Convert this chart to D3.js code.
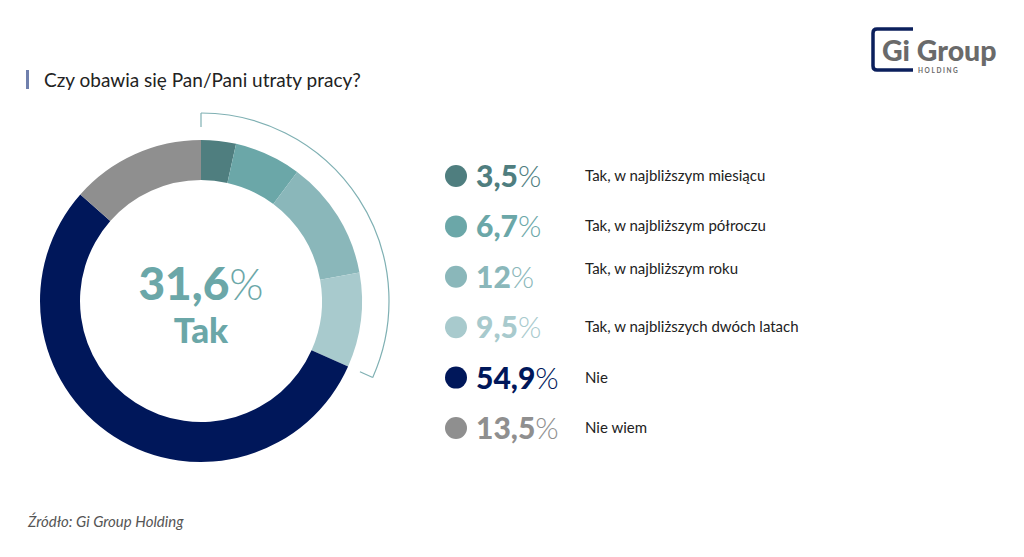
<!DOCTYPE html>
<meta charset="utf-8">
<script src="https://d3js.org/d3.v7.min.js"></script>
<style>
  body { margin: 0; background: #fff; }
  svg { font-family: Lato, "Open Sans", sans-serif; }
</style>
<div id="chart"></div>
<script>
// data
var values = [3.5, 6.7, 12, 9.5, 54.9, 13.5]
var valueLabels = ["3,5", "6,7", "12", "9,5", "54,9", "13,5"]
var categories = ["Tak, w najbliższym miesiącu", "Tak, w najbliższym półroczu", "Tak, w najbliższym roku",
                  "Tak, w najbliższych dwóch latach", "Nie", "Nie wiem"]
var colors = ["#4f7e7f", "#6ba7a8", "#8ab7ba", "#a8cacd", "#00175a", "#8f8f8f"]
var takCount = 4  // first four categories make up "Tak"
var takTotal = "31,6"

var width = 1024, height = 557
var svg = d3.select("#chart").append("svg").attr("width", width).attr("height", height)

// title
svg.append("rect").attr("x", 26).attr("y", 70).attr("width", 3).attr("height", 19).attr("fill", "#7080ad")
svg.append("text").attr("x", 44).attr("y", 87).text("Czy obawia się Pan/Pani utraty pracy?")
  .style("font-size", "19px").style("fill", "#222")

// donut
var cx = 201, cy = 301
var pie = d3.pie().sort(null).value(function(d){ return d })
var arcs = pie(values)
var arc = d3.arc().innerRadius(121).outerRadius(161)
var g = svg.append("g").attr("transform", "translate(" + cx + "," + cy + ")")
g.selectAll("path").data(arcs).enter().append("path")
  .attr("d", arc)
  .attr("fill", function(d, i){ return colors[i] })

// bracket around "Tak" slices
var bracketEnd = arcs[takCount - 1].endAngle
var rB = 188
var bracket = d3.arc().innerRadius(rB).outerRadius(rB).startAngle(0).endAngle(bracketEnd)
g.append("path").attr("d", bracket()).attr("fill", "none").attr("stroke", "#7fb0b3").attr("stroke-width", 1.2)
;[0, bracketEnd].forEach(function(a){
  var r1 = rB, r2 = rB - 14
  g.append("line")
    .attr("x1", r1 * Math.sin(a)).attr("y1", -r1 * Math.cos(a))
    .attr("x2", r2 * Math.sin(a)).attr("y2", -r2 * Math.cos(a))
    .attr("stroke", "#7fb0b3").attr("stroke-width", 1.2)
})

// center label
var center = g.append("text").attr("text-anchor", "middle").attr("y", -1).style("fill", "#6ba7a8")
center.append("tspan").text(takTotal).style("font-weight", 900).style("font-size", "46px")
center.append("tspan").text("%").style("font-weight", 300).style("font-size", "44px")
g.append("text").attr("text-anchor", "middle").attr("y", 42).text("Tak")
  .style("font-weight", 900).style("font-size", "35px").style("fill", "#6ba7a8")

// legend
var y = d3.scalePoint().domain(d3.range(values.length)).range([176, 428])
var rows = svg.append("g").selectAll("g").data(values).enter().append("g")
  .attr("transform", function(d, i){ return "translate(0," + y(i) + ")" })
rows.append("circle").attr("cx", 456).attr("cy", 0).attr("r", 11)
  .attr("fill", function(d, i){ return colors[i] })
var num = rows.append("text").attr("x", 476).attr("y", 11)
  .style("fill", function(d, i){ return colors[i] })
num.append("tspan").text(function(d, i){ return valueLabels[i] }).style("font-weight", 900).style("font-size", "30px")
num.append("tspan").text("%").style("font-weight", 300).style("font-size", "30px")
rows.append("text").attr("x", 585).attr("y", function(d, i){ return i == 2 ? -3 : 5 })
  .text(function(d, i){ return categories[i] })
  .style("font-size", "15px").style("fill", "#222")

// logo
var logo = svg.append("g")
logo.append("path").attr("d", "M913,29 H877 Q873,29 873,33 V66 Q873,70 877,70 H913")
  .attr("fill", "none").attr("stroke", "#0b1f5c").attr("stroke-width", 3.5)
logo.append("text").attr("x", 882).attr("y", 61).text("Gi Group")
  .style("font-weight", 900).style("font-size", "28.5px").style("fill", "#6a6a6a")
logo.append("text").attr("x", 918).attr("y", 73).text("HOLDING")
  .style("font-weight", 700).style("font-size", "6.5px").style("letter-spacing", "1.6px").style("fill", "#6a6a6a")

// source
svg.append("text").attr("x", 28).attr("y", 527).text("Źródło: Gi Group Holding")
  .style("font-style", "italic").style("font-size", "15px").style("fill", "#555")
</script>
